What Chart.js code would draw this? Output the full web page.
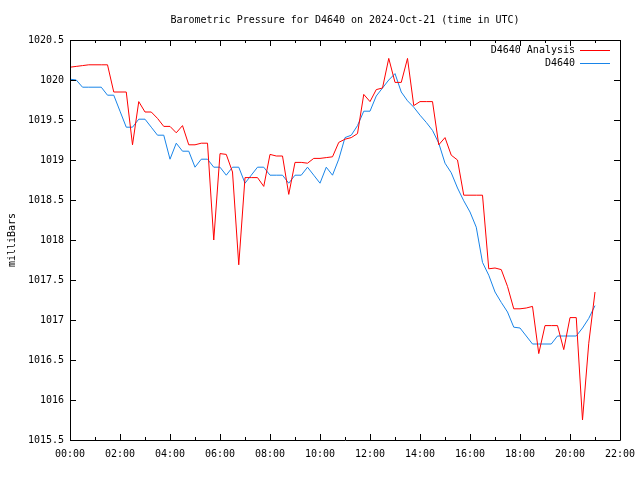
<!DOCTYPE html>
<html>
<head>
<meta charset="utf-8">
<script src="https://cdn.jsdelivr.net/npm/chart.js@4/dist/chart.umd.min.js"></script>
<style>
  html, body { margin: 0; padding: 0; background: #fff; }
  #wrap { width: 640px; height: 480px; }
</style>
</head>
<body>
<div id="wrap"><canvas id="pressureChart" width="640" height="480"></canvas></div>
<script>
var chartTitle = 'Barometric Pressure for D4640 on 2024-Oct-21 (time in UTC)';
var yLabel = 'milliBars';

var times = [
    '00:00', '00:15', '00:30', '00:45', '01:00', '01:15', '01:30', '01:45',
    '02:00', '02:15', '02:30', '02:45', '03:00', '03:15', '03:30', '03:45',
    '04:00', '04:15', '04:30', '04:45', '05:00', '05:15', '05:30', '05:45',
    '06:00', '06:15', '06:30', '06:45', '07:00', '07:15', '07:30', '07:45',
    '08:00', '08:15', '08:30', '08:45', '09:00', '09:15', '09:30', '09:45',
    '10:00', '10:15', '10:30', '10:45', '11:00', '11:15', '11:30', '11:45',
    '12:00', '12:15', '12:30', '12:45', '13:00', '13:15', '13:30', '13:45',
    '14:00', '14:15', '14:30', '14:45', '15:00', '15:15', '15:30', '15:45',
    '16:00', '16:15', '16:30', '16:45', '17:00', '17:15', '17:30', '17:45',
    '18:00', '18:15', '18:30', '18:45', '19:00', '19:15', '19:30', '19:45',
    '20:00', '20:15', '20:30', '20:45', '21:00'
];

var analysisValues = [
    1020.16, 1020.17, 1020.18, 1020.19, 1020.19, 1020.19, 1020.19, 1019.85,
    1019.85, 1019.85, 1019.19, 1019.73, 1019.60, 1019.60, 1019.52, 1019.42,
    1019.42, 1019.34, 1019.43, 1019.19, 1019.19, 1019.21, 1019.21, 1018.00,
    1019.08, 1019.07, 1018.85, 1017.69, 1018.78, 1018.78, 1018.78, 1018.67,
    1019.07, 1019.05, 1019.05, 1018.57, 1018.97, 1018.97, 1018.96, 1019.02,
    1019.02, 1019.03, 1019.04, 1019.22, 1019.26, 1019.28, 1019.33, 1019.82,
    1019.73, 1019.88, 1019.90, 1020.27, 1019.97, 1019.97, 1020.27, 1019.68,
    1019.73, 1019.73, 1019.73, 1019.19, 1019.28, 1019.06, 1019.00, 1018.56,
    1018.56, 1018.56, 1018.56, 1017.64, 1017.65, 1017.63, 1017.42, 1017.14,
    1017.14, 1017.15, 1017.17, 1016.58, 1016.93, 1016.93, 1016.93, 1016.63,
    1017.03, 1017.03, 1015.75, 1016.71, 1017.35
];

var stationValues = [
    1020.01, 1020.00, 1019.91, 1019.91, 1019.91, 1019.91, 1019.81, 1019.81,
    1019.61, 1019.41, 1019.41, 1019.51, 1019.51, 1019.41, 1019.31, 1019.31,
    1019.01, 1019.21, 1019.11, 1019.11, 1018.91, 1019.01, 1019.01, 1018.91,
    1018.91, 1018.81, 1018.91, 1018.91, 1018.71, 1018.81, 1018.91, 1018.91,
    1018.81, 1018.81, 1018.81, 1018.71, 1018.81, 1018.81, 1018.91, 1018.81,
    1018.71, 1018.91, 1018.81, 1019.01, 1019.28, 1019.31, 1019.43, 1019.61,
    1019.61, 1019.80, 1019.90, 1020.00, 1020.08, 1019.85, 1019.74, 1019.66,
    1019.56, 1019.47, 1019.37, 1019.21, 1018.96, 1018.84, 1018.65, 1018.49,
    1018.35, 1018.16, 1017.72, 1017.56, 1017.35, 1017.22, 1017.10, 1016.91,
    1016.90, 1016.80, 1016.70, 1016.70, 1016.70, 1016.70, 1016.80, 1016.80,
    1016.80, 1016.80, 1016.90, 1017.02, 1017.18
];

var FONT = '10px "DejaVu Sans Mono", "Liberation Mono", monospace';

function toHours(t) {
    var parts = t.split(':');
    return parseInt(parts[0], 10) + parseInt(parts[1], 10) / 60;
}

function toPoints(values) {
    return values.map(function (v, i) {
        return { x: toHours(times[i]), y: v };
    });
}

// gnuplot style frame: box, inward ticks on all sides, title, y label, legend
var framePlugin = {
    id: 'frame',
    afterDatasetsDraw: function (chart) {
        var ctx = chart.ctx;
        var area = chart.chartArea;
        var xs = chart.scales.x;
        var ys = chart.scales.y;
        ctx.save();
        ctx.strokeStyle = '#000';
        ctx.lineWidth = 1;
        ctx.beginPath();
        ctx.rect(Math.round(area.left) + 0.5, Math.round(area.top) + 0.5,
            Math.round(area.right - area.left), Math.round(area.bottom - area.top));

        for (var h = 0; h <= 22; h++) {
            var px = Math.round(xs.getPixelForValue(h)) + 0.5;
            var len = h % 2 === 0 ? 6 : 3;
            ctx.moveTo(px, area.bottom);
            ctx.lineTo(px, area.bottom - len);
            ctx.moveTo(px, area.top);
            ctx.lineTo(px, area.top + len);
        }
        ys.ticks.forEach(function (t) {
            var py = Math.round(ys.getPixelForValue(t.value)) + 0.5;
            ctx.moveTo(area.left, py);
            ctx.lineTo(area.left + 6, py);
            ctx.moveTo(area.right, py);
            ctx.lineTo(area.right - 6, py);
        });
        ctx.stroke();

        ctx.fillStyle = '#000';
        ctx.font = FONT;
        ctx.textAlign = 'center';
        ctx.textBaseline = 'middle';
        ctx.fillText(chartTitle, (area.left + area.right) / 2, 20);

        ctx.save();
        ctx.translate(12, (area.top + area.bottom) / 2);
        ctx.rotate(-Math.PI / 2);
        ctx.fillText(yLabel, 0, 0);
        ctx.restore();

        chart.data.datasets.forEach(function (ds, i) {
            var ly = 50 + i * 13;
            ctx.textAlign = 'right';
            ctx.fillStyle = '#000';
            ctx.fillText(ds.label, 575, ly);
            ctx.strokeStyle = ds.borderColor;
            ctx.beginPath();
            ctx.moveTo(580, ly + 0.5);
            ctx.lineTo(610, ly + 0.5);
            ctx.stroke();
        });
        ctx.restore();
    }
};

var ctx = document.getElementById('pressureChart').getContext('2d');
var pressureChart = new Chart(ctx, {
    type: 'line',
    data: {
        datasets: [{
            label: 'D4640 Analysis',
            borderColor: 'rgb(255, 0, 0)',
            borderWidth: 1,
            pointRadius: 0,
            tension: 0,
            data: toPoints(analysisValues)
        },
        {
            label: 'D4640',
            borderColor: 'rgb(24, 132, 232)',
            borderWidth: 1,
            pointRadius: 0,
            tension: 0,
            data: toPoints(stationValues)
        }]
    },
    options: {
        responsive: false,
        animation: false,
        layout: { padding: { left: 0, right: 20, top: 40, bottom: 0 } },
        plugins: {
            legend: { display: false },
            title: { display: false },
            tooltip: { enabled: false }
        },
        scales: {
            x: {
                type: 'linear',
                min: 0,
                max: 22,
                grid: { display: false, drawTicks: false, tickLength: 0 },
                border: { display: false },
                ticks: {
                    stepSize: 2,
                    maxRotation: 0,
                    padding: 8,
                    color: '#000',
                    font: { family: '"DejaVu Sans Mono", monospace', size: 10 },
                    callback: function (v) {
                        var h = Math.round(v);
                        return (h < 10 ? '0' : '') + h + ':00';
                    }
                },
                afterFit: function (scale) {
                    scale.height = 40;
                    scale.paddingLeft = 0;
                    scale.paddingRight = 0;
                }
            },
            y: {
                min: 1015.5,
                max: 1020.5,
                grid: { display: false, drawTicks: false, tickLength: 0 },
                border: { display: false },
                ticks: {
                    stepSize: 0.5,
                    padding: 6,
                    color: '#000',
                    font: { family: '"DejaVu Sans Mono", monospace', size: 10 },
                    callback: function (v) { return String(+v.toFixed(1)); }
                },
                afterFit: function (scale) {
                    scale.width = 70;
                    scale.paddingTop = 0;
                    scale.paddingBottom = 0;
                }
            }
        }
    },
    plugins: [framePlugin]
});
</script>
</body>
</html>
